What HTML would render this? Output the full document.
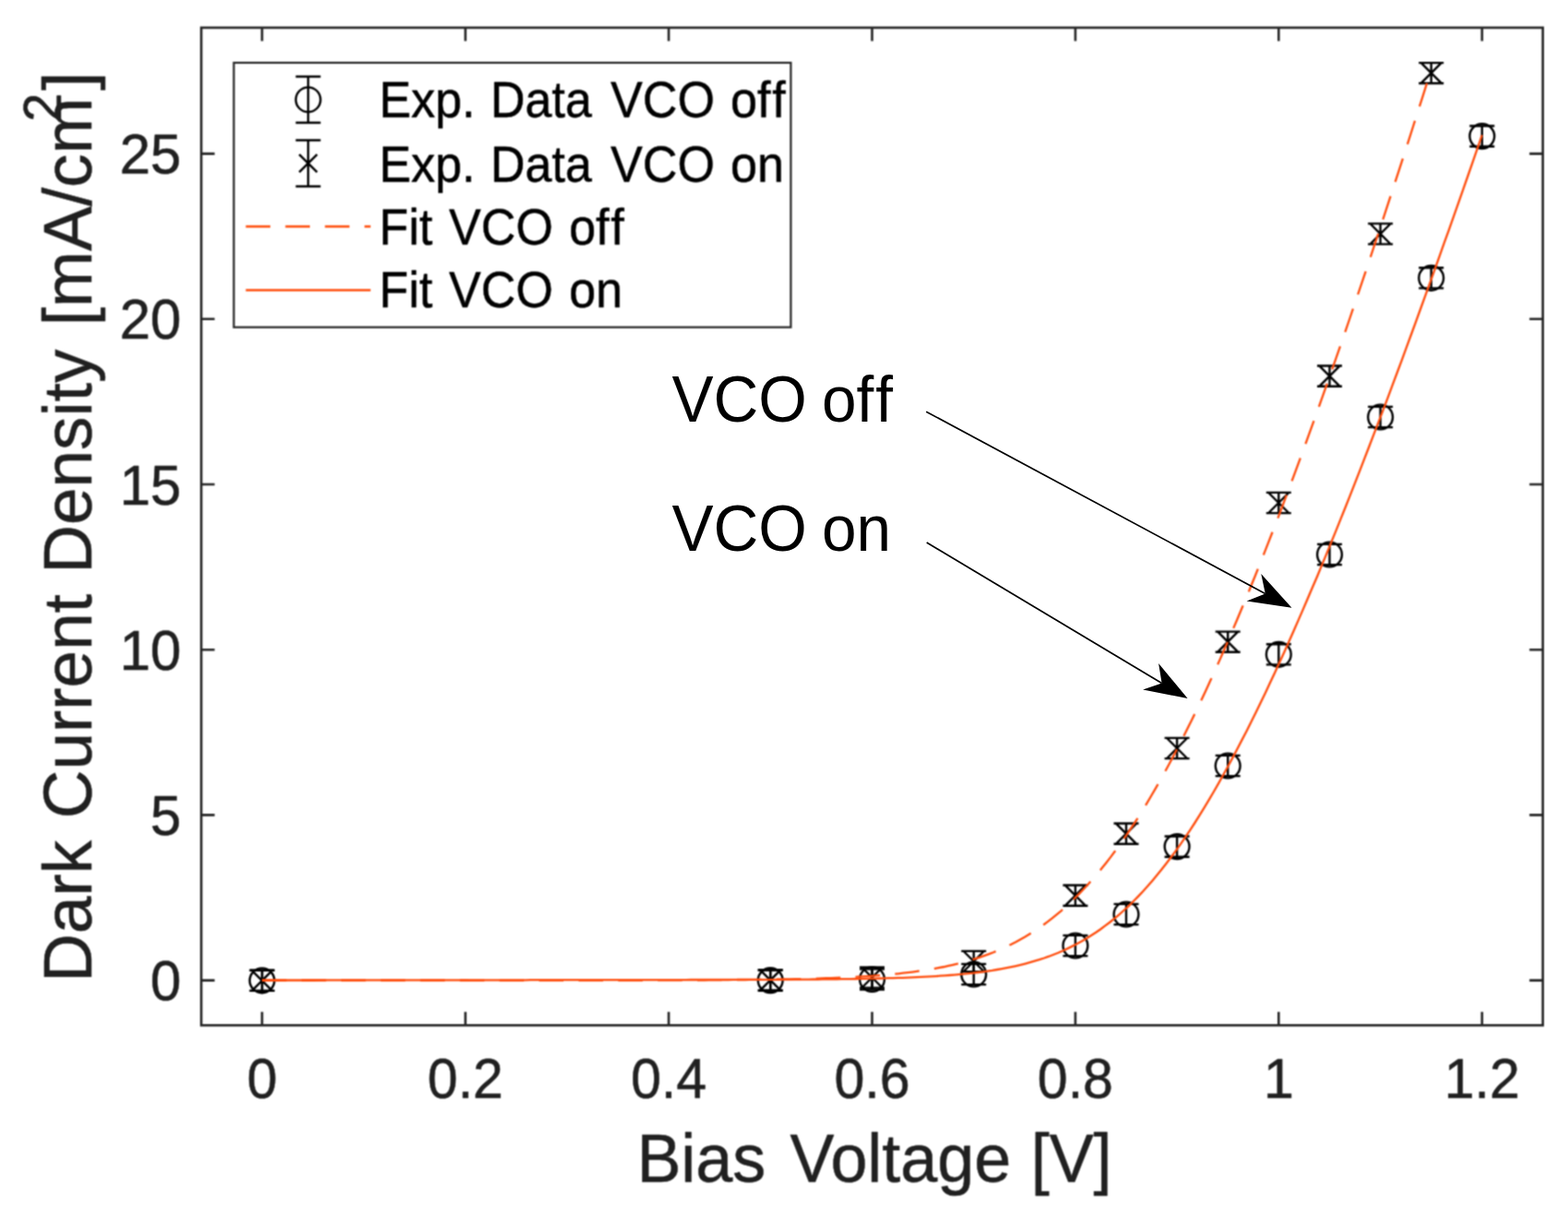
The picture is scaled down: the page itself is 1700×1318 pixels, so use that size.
<!DOCTYPE html>
<html lang="en"><head><meta charset="utf-8"><title>Dark Current Density vs Bias Voltage</title>
<style>html,body{margin:0;padding:0;background:#fff;}body{width:1700px;height:1318px;overflow:hidden;}svg{display:block;}text{font-family:"Liberation Sans",Arial,Helvetica,sans-serif;white-space:pre;}.m text{stroke-width:0.5px;stroke-linejoin:round;paint-order:stroke fill;}</style>
</head><body>
<svg width="1700" height="1318" viewBox="0 0 1700 1318">
<defs><filter id="soft" x="0" y="0" width="1700" height="1318" filterUnits="userSpaceOnUse" color-interpolation-filters="sRGB"><feConvolveMatrix order="3" kernelMatrix="1 2 1 2 4 2 1 2 1" divisor="16" edgeMode="duplicate" preserveAlpha="true"/></filter></defs>
<rect width="1700" height="1318" fill="#fff"/>
<g class="m" filter="url(#soft)">
<rect width="1700" height="1318" fill="#fff"/>
<g fill="none" stroke="#262626" stroke-width="2.6">
<rect x="218.2" y="30.0" width="1454.5" height="1081.3"/>
<path d="M284.1,1111.3 V1096.8 M284.1,30.0 V44.5"/>
<path d="M504.6,1111.3 V1096.8 M504.6,30.0 V44.5"/>
<path d="M725.0,1111.3 V1096.8 M725.0,30.0 V44.5"/>
<path d="M945.5,1111.3 V1096.8 M945.5,30.0 V44.5"/>
<path d="M1165.9,1111.3 V1096.8 M1165.9,30.0 V44.5"/>
<path d="M1386.3,1111.3 V1096.8 M1386.3,30.0 V44.5"/>
<path d="M1606.8,1111.3 V1096.8 M1606.8,30.0 V44.5"/>
<path d="M218.2,1062.6 H232.7 M1672.7,1062.6 H1658.2"/>
<path d="M218.2,883.4 H232.7 M1672.7,883.4 H1658.2"/>
<path d="M218.2,704.2 H232.7 M1672.7,704.2 H1658.2"/>
<path d="M218.2,525.0 H232.7 M1672.7,525.0 H1658.2"/>
<path d="M218.2,345.8 H232.7 M1672.7,345.8 H1658.2"/>
<path d="M218.2,166.6 H232.7 M1672.7,166.6 H1658.2"/>
</g>
<text transform="translate(284.1,1190.4) scale(0.985,1.02)" font-size="60px" fill="#202020" stroke="#202020" text-anchor="middle">0</text>
<text transform="translate(504.6,1190.4) scale(0.985,1.02)" font-size="60px" fill="#202020" stroke="#202020" text-anchor="middle">0.2</text>
<text transform="translate(725.0,1190.4) scale(0.985,1.02)" font-size="60px" fill="#202020" stroke="#202020" text-anchor="middle">0.4</text>
<text transform="translate(945.5,1190.4) scale(0.985,1.02)" font-size="60px" fill="#202020" stroke="#202020" text-anchor="middle">0.6</text>
<text transform="translate(1165.9,1190.4) scale(0.985,1.02)" font-size="60px" fill="#202020" stroke="#202020" text-anchor="middle">0.8</text>
<text transform="translate(1386.3,1190.4) scale(0.985,1.02)" font-size="60px" fill="#202020" stroke="#202020" text-anchor="middle">1</text>
<text transform="translate(1606.8,1190.4) scale(0.985,1.02)" font-size="60px" fill="#202020" stroke="#202020" text-anchor="middle">1.2</text>
<text transform="translate(196.4,1084.2) scale(1,1.02)" font-size="60px" fill="#202020" stroke="#202020" text-anchor="end">0</text>
<text transform="translate(196.4,905.0) scale(1,1.02)" font-size="60px" fill="#202020" stroke="#202020" text-anchor="end">5</text>
<text transform="translate(196.4,725.8) scale(1,1.02)" font-size="60px" fill="#202020" stroke="#202020" text-anchor="end">10</text>
<text transform="translate(196.4,546.6) scale(1,1.02)" font-size="60px" fill="#202020" stroke="#202020" text-anchor="end">15</text>
<text transform="translate(196.4,367.4) scale(1,1.02)" font-size="60px" fill="#202020" stroke="#202020" text-anchor="end">20</text>
<text transform="translate(196.4,188.2) scale(1,1.02)" font-size="60px" fill="#202020" stroke="#202020" text-anchor="end">25</text>
<text transform="translate(0,1281.4) scale(0.985,1.02)" font-size="73px" fill="#202020" stroke="#202020"><tspan x="700.92">Bias </tspan><tspan x="869.43">Voltage </tspan><tspan x="1134.69">[V]</tspan></text>
<text transform="translate(99.3,1064) rotate(-90) scale(1,1.02)" font-size="73px" fill="#202020" stroke="#202020"><tspan x="-0.8">Dark </tspan><tspan x="176.7">Current </tspan><tspan x="442.2">Density </tspan><tspan x="710.8">[mA/cm</tspan><tspan x="932" dy="-32.2" font-size="56px">2</tspan><tspan x="966.1" dy="32.2">]</tspan></text>
<g fill="none" stroke="#000" stroke-width="2.4">
<path d="M284.1,1051.7 V1073.9 M270.6,1051.7 H297.6 M270.6,1073.9 H297.6"/><circle cx="284.1" cy="1062.8" r="13.4"/>
<path d="M835.2,1051.5 V1073.7 M821.7,1051.5 H848.7 M821.7,1073.7 H848.7"/><circle cx="835.2" cy="1062.6" r="13.4"/>
<path d="M945.5,1050.4 V1072.6 M932.0,1050.4 H959.0 M932.0,1072.6 H959.0"/><circle cx="945.5" cy="1061.5" r="13.4"/>
<path d="M1055.7,1044.9 V1067.1 M1042.2,1044.9 H1069.2 M1042.2,1067.1 H1069.2"/><circle cx="1055.7" cy="1056.0" r="13.4"/>
<path d="M1165.9,1013.9 V1036.1 M1152.4,1013.9 H1179.4 M1152.4,1036.1 H1179.4"/><circle cx="1165.9" cy="1025.0" r="13.4"/>
<path d="M1221.0,979.9 V1002.1 M1207.5,979.9 H1234.5 M1207.5,1002.1 H1234.5"/><circle cx="1221.0" cy="991.0" r="13.4"/>
<path d="M1276.1,906.5 V928.7 M1262.6,906.5 H1289.6 M1262.6,928.7 H1289.6"/><circle cx="1276.1" cy="917.6" r="13.4"/>
<path d="M1331.2,818.9 V841.1 M1317.7,818.9 H1344.7 M1317.7,841.1 H1344.7"/><circle cx="1331.2" cy="830.0" r="13.4"/>
<path d="M1386.3,698.2 V720.4 M1372.8,698.2 H1399.8 M1372.8,720.4 H1399.8"/><circle cx="1386.3" cy="709.3" r="13.4"/>
<path d="M1441.5,589.9 V612.1 M1428.0,589.9 H1455.0 M1428.0,612.1 H1455.0"/><circle cx="1441.5" cy="601.0" r="13.4"/>
<path d="M1496.6,440.9 V463.1 M1483.1,440.9 H1510.1 M1483.1,463.1 H1510.1"/><circle cx="1496.6" cy="452.0" r="13.4"/>
<path d="M1551.7,290.2 V312.4 M1538.2,290.2 H1565.2 M1538.2,312.4 H1565.2"/><circle cx="1551.7" cy="301.3" r="13.4"/>
<path d="M1606.8,136.5 V158.7 M1593.3,136.5 H1620.3 M1593.3,158.7 H1620.3"/><circle cx="1606.8" cy="147.6" r="13.4"/>
<path d="M284.1,1051.7 V1073.9 M270.6,1051.7 H297.6 M270.6,1073.9 H297.6 M273.6,1052.3 L294.6,1073.3 M273.6,1073.3 L294.6,1052.3"/>
<path d="M835.2,1051.2 V1073.4 M821.7,1051.2 H848.7 M821.7,1073.4 H848.7 M824.7,1051.8 L845.7,1072.8 M824.7,1072.8 L845.7,1051.8"/>
<path d="M945.5,1048.4 V1070.6 M932.0,1048.4 H959.0 M932.0,1070.6 H959.0 M935.0,1049.0 L956.0,1070.0 M935.0,1070.0 L956.0,1049.0"/>
<path d="M1055.7,1030.9 V1053.1 M1042.2,1030.9 H1069.2 M1042.2,1053.1 H1069.2 M1045.2,1031.5 L1066.2,1052.5 M1045.2,1052.5 L1066.2,1031.5"/>
<path d="M1165.9,959.5 V981.7 M1152.4,959.5 H1179.4 M1152.4,981.7 H1179.4 M1155.4,960.1 L1176.4,981.1 M1155.4,981.1 L1176.4,960.1"/>
<path d="M1221.0,892.5 V914.7 M1207.5,892.5 H1234.5 M1207.5,914.7 H1234.5 M1210.5,893.1 L1231.5,914.1 M1210.5,914.1 L1231.5,893.1"/>
<path d="M1276.1,799.9 V822.1 M1262.6,799.9 H1289.6 M1262.6,822.1 H1289.6 M1265.6,800.5 L1286.6,821.5 M1265.6,821.5 L1286.6,800.5"/>
<path d="M1331.2,684.6 V706.8 M1317.7,684.6 H1344.7 M1317.7,706.8 H1344.7 M1320.7,685.2 L1341.7,706.2 M1320.7,706.2 L1341.7,685.2"/>
<path d="M1386.3,533.9 V556.1 M1372.8,533.9 H1399.8 M1372.8,556.1 H1399.8 M1375.8,534.5 L1396.8,555.5 M1375.8,555.5 L1396.8,534.5"/>
<path d="M1441.5,396.5 V418.7 M1428.0,396.5 H1455.0 M1428.0,418.7 H1455.0 M1431.0,397.1 L1452.0,418.1 M1431.0,418.1 L1452.0,397.1"/>
<path d="M1496.6,242.4 V264.6 M1483.1,242.4 H1510.1 M1483.1,264.6 H1510.1 M1486.1,243.0 L1507.1,264.0 M1486.1,264.0 L1507.1,243.0"/>
<path d="M1551.7,68.1 V90.3 M1538.2,68.1 H1565.2 M1538.2,90.3 H1565.2 M1541.2,68.7 L1562.2,89.7 M1541.2,89.7 L1562.2,68.7"/>
</g>
<g fill="none" stroke="#ff4d0d" stroke-width="2.3">
<path d="M284.1,1062.5 L289.0,1062.5 L293.9,1062.5 L298.8,1062.5 L303.7,1062.5 L308.6,1062.5 L313.5,1062.5 L318.4,1062.5 L323.3,1062.5 L328.1,1062.5 L333.0,1062.5 L337.9,1062.5 L342.8,1062.5 L347.7,1062.5 L352.6,1062.5 L357.5,1062.5 L362.4,1062.5 L367.3,1062.5 L372.2,1062.5 L377.1,1062.5 L382.0,1062.5 L386.9,1062.5 L391.8,1062.5 L396.7,1062.5 L401.6,1062.5 L406.5,1062.5 L411.3,1062.5 L416.2,1062.5 L421.1,1062.5 L426.0,1062.5 L430.9,1062.5 L435.8,1062.5 L440.7,1062.5 L445.6,1062.5 L450.5,1062.5 L455.4,1062.5 L460.3,1062.5 L465.2,1062.5 L470.1,1062.5 L475.0,1062.5 L479.9,1062.5 L484.8,1062.5 L489.7,1062.5 L494.5,1062.5 L499.4,1062.5 L504.3,1062.5 L509.2,1062.6 L514.1,1062.6 L519.0,1062.6 L523.9,1062.6 L528.8,1062.6 L533.7,1062.6 L538.6,1062.6 L543.5,1062.6 L548.4,1062.6 L553.3,1062.6 L558.2,1062.6 L563.1,1062.6 L568.0,1062.6 L572.9,1062.6 L577.7,1062.6 L582.6,1062.6 L587.5,1062.6 L592.4,1062.6 L597.3,1062.6 L602.2,1062.5 L607.1,1062.5 L612.0,1062.5 L616.9,1062.5 L621.8,1062.5 L626.7,1062.5 L631.6,1062.5 L636.5,1062.5 L641.4,1062.5 L646.3,1062.5 L651.2,1062.5 L656.1,1062.5 L661.0,1062.5 L665.8,1062.5 L670.7,1062.5 L675.6,1062.5 L680.5,1062.5 L685.4,1062.5 L690.3,1062.5 L695.2,1062.5 L700.1,1062.5 L705.0,1062.5 L709.9,1062.4 L714.8,1062.4 L719.7,1062.4 L724.6,1062.4 L729.5,1062.4 L734.4,1062.4 L739.3,1062.4 L744.2,1062.4 L749.0,1062.3 L753.9,1062.3 L758.8,1062.3 L763.7,1062.3 L768.6,1062.2 L773.5,1062.2 L778.4,1062.2 L783.3,1062.2 L788.2,1062.1 L793.1,1062.1 L798.0,1062.0 L802.9,1062.0 L807.8,1062.0 L812.7,1061.9 L817.6,1061.9 L822.5,1061.8 L827.4,1061.7 L832.2,1061.7 L837.1,1061.6 L842.0,1061.5 L846.9,1061.5 L851.8,1061.4 L856.7,1061.3 L861.6,1061.2 L866.5,1061.1 L871.4,1061.0 L876.3,1060.8 L881.2,1060.7 L886.1,1060.6 L891.0,1060.4 L895.9,1060.2 L900.8,1060.1 L905.7,1059.9 L910.6,1059.7 L915.4,1059.5 L920.3,1059.2 L925.2,1059.0 L930.1,1058.7 L935.0,1058.4 L939.9,1058.1 L944.8,1057.8 L949.7,1057.4 L954.6,1057.1 L959.5,1056.7 L964.4,1056.2 L969.3,1055.8 L974.2,1055.3 L979.1,1054.7 L984.0,1054.2 L988.9,1053.6 L993.8,1052.9 L998.6,1052.2 L1003.5,1051.5 L1008.4,1050.7 L1013.3,1049.8 L1018.2,1048.9 L1023.1,1048.0 L1028.0,1046.9 L1032.9,1045.8 L1037.8,1044.7 L1042.7,1043.4 L1047.6,1042.1 L1052.5,1040.7 L1057.4,1039.2 L1062.3,1037.6 L1067.2,1035.9 L1072.1,1034.1 L1077.0,1032.2 L1081.8,1030.2 L1086.7,1028.1 L1091.6,1025.8 L1096.5,1023.5 L1101.4,1021.0 L1106.3,1018.3 L1111.2,1015.5 L1116.1,1012.5 L1121.0,1009.4 L1125.9,1006.2 L1130.8,1002.8 L1135.7,999.2 L1140.6,995.4 L1145.5,991.4 L1150.4,987.3 L1155.3,983.0 L1160.2,978.5 L1165.0,973.8 L1169.9,968.9 L1174.8,963.8 L1179.7,958.5 L1184.6,953.0 L1189.5,947.2 L1194.4,941.3 L1199.3,935.2 L1204.2,928.9 L1209.1,922.3 L1214.0,915.6 L1218.9,908.6 L1223.8,901.4 L1228.7,894.0 L1233.6,886.5 L1238.5,878.7 L1243.4,870.7 L1248.2,862.5 L1253.1,854.1 L1258.0,845.5 L1262.9,836.7 L1267.8,827.7 L1272.7,818.5 L1277.6,809.1 L1282.5,799.6 L1287.4,789.8 L1292.3,779.9 L1297.2,769.8 L1302.1,759.6 L1307.0,749.2 L1311.9,738.6 L1316.8,727.8 L1321.7,716.9 L1326.6,705.8 L1331.5,694.6 L1336.3,683.2 L1341.2,671.7 L1346.1,660.0 L1351.0,648.2 L1355.9,636.3 L1360.8,624.2 L1365.7,612.0 L1370.6,599.6 L1375.5,587.2 L1380.4,574.6 L1385.3,561.9 L1390.2,549.1 L1395.1,536.1 L1400.0,523.1 L1404.9,509.9 L1409.8,496.7 L1414.7,483.3 L1419.5,469.8 L1424.4,456.3 L1429.3,442.6 L1434.2,428.9 L1439.1,415.0 L1444.0,401.1 L1448.9,387.1 L1453.8,372.9 L1458.7,358.8 L1463.6,344.5 L1468.5,330.1 L1473.4,315.7 L1478.3,301.2 L1483.2,286.6 L1488.1,271.9 L1493.0,257.2 L1497.9,242.4 L1502.7,227.6 L1507.6,212.6 L1512.5,197.6 L1517.4,182.6 L1522.3,167.5 L1527.2,152.3 L1532.1,137.0 L1537.0,121.7 L1541.9,106.4 L1546.8,90.9 L1551.7,75.5" stroke-dasharray="26.6 16.3"/>
<path d="M284.1,1062.5 L289.2,1062.5 L294.3,1062.5 L299.4,1062.5 L304.5,1062.5 L309.6,1062.5 L314.7,1062.5 L319.8,1062.5 L325.0,1062.5 L330.1,1062.5 L335.2,1062.5 L340.3,1062.5 L345.4,1062.4 L350.5,1062.4 L355.6,1062.4 L360.7,1062.4 L365.8,1062.4 L370.9,1062.4 L376.0,1062.4 L381.1,1062.4 L386.2,1062.4 L391.3,1062.4 L396.5,1062.4 L401.6,1062.4 L406.7,1062.4 L411.8,1062.4 L416.9,1062.4 L422.0,1062.4 L427.1,1062.4 L432.2,1062.4 L437.3,1062.4 L442.4,1062.4 L447.5,1062.4 L452.6,1062.4 L457.7,1062.4 L462.8,1062.3 L468.0,1062.3 L473.1,1062.3 L478.2,1062.3 L483.3,1062.3 L488.4,1062.3 L493.5,1062.3 L498.6,1062.3 L503.7,1062.3 L508.8,1062.3 L513.9,1062.3 L519.0,1062.3 L524.1,1062.3 L529.2,1062.3 L534.3,1062.3 L539.4,1062.3 L544.6,1062.3 L549.7,1062.3 L554.8,1062.3 L559.9,1062.3 L565.0,1062.3 L570.1,1062.3 L575.2,1062.2 L580.3,1062.2 L585.4,1062.2 L590.5,1062.2 L595.6,1062.2 L600.7,1062.2 L605.8,1062.2 L610.9,1062.2 L616.1,1062.2 L621.2,1062.2 L626.3,1062.2 L631.4,1062.2 L636.5,1062.2 L641.6,1062.2 L646.7,1062.2 L651.8,1062.2 L656.9,1062.2 L662.0,1062.2 L667.1,1062.2 L672.2,1062.2 L677.3,1062.1 L682.4,1062.1 L687.5,1062.1 L692.7,1062.1 L697.8,1062.1 L702.9,1062.1 L708.0,1062.1 L713.1,1062.1 L718.2,1062.1 L723.3,1062.1 L728.4,1062.1 L733.5,1062.1 L738.6,1062.1 L743.7,1062.1 L748.8,1062.0 L753.9,1062.0 L759.0,1062.0 L764.2,1062.0 L769.3,1062.0 L774.4,1062.0 L779.5,1062.0 L784.6,1062.0 L789.7,1062.0 L794.8,1061.9 L799.9,1061.9 L805.0,1061.9 L810.1,1061.9 L815.2,1061.9 L820.3,1061.9 L825.4,1061.9 L830.5,1061.8 L835.7,1061.8 L840.8,1061.8 L845.9,1061.8 L851.0,1061.7 L856.1,1061.7 L861.2,1061.7 L866.3,1061.6 L871.4,1061.6 L876.5,1061.6 L881.6,1061.5 L886.7,1061.5 L891.8,1061.4 L896.9,1061.4 L902.0,1061.3 L907.1,1061.3 L912.3,1061.2 L917.4,1061.2 L922.5,1061.1 L927.6,1061.0 L932.7,1060.9 L937.8,1060.8 L942.9,1060.7 L948.0,1060.6 L953.1,1060.5 L958.2,1060.4 L963.3,1060.2 L968.4,1060.1 L973.5,1059.9 L978.6,1059.8 L983.8,1059.6 L988.9,1059.4 L994.0,1059.1 L999.1,1058.9 L1004.2,1058.7 L1009.3,1058.4 L1014.4,1058.1 L1019.5,1057.7 L1024.6,1057.4 L1029.7,1057.0 L1034.8,1056.6 L1039.9,1056.2 L1045.0,1055.7 L1050.1,1055.2 L1055.2,1054.6 L1060.4,1054.0 L1065.5,1053.3 L1070.6,1052.6 L1075.7,1051.9 L1080.8,1051.0 L1085.9,1050.1 L1091.0,1049.2 L1096.1,1048.2 L1101.2,1047.1 L1106.3,1045.9 L1111.4,1044.6 L1116.5,1043.2 L1121.6,1041.7 L1126.7,1040.2 L1131.9,1038.5 L1137.0,1036.7 L1142.1,1034.7 L1147.2,1032.7 L1152.3,1030.5 L1157.4,1028.1 L1162.5,1025.6 L1167.6,1023.0 L1172.7,1020.2 L1177.8,1017.2 L1182.9,1014.0 L1188.0,1010.7 L1193.1,1007.2 L1198.2,1003.4 L1203.4,999.5 L1208.5,995.4 L1213.6,991.1 L1218.7,986.5 L1223.8,981.8 L1228.9,976.8 L1234.0,971.6 L1239.1,966.2 L1244.2,960.6 L1249.3,954.7 L1254.4,948.6 L1259.5,942.3 L1264.6,935.8 L1269.7,929.0 L1274.8,922.1 L1280.0,914.9 L1285.1,907.4 L1290.2,899.8 L1295.3,892.0 L1300.4,883.9 L1305.5,875.6 L1310.6,867.2 L1315.7,858.5 L1320.8,849.6 L1325.9,840.5 L1331.0,831.3 L1336.1,821.9 L1341.2,812.2 L1346.3,802.4 L1351.5,792.5 L1356.6,782.3 L1361.7,772.0 L1366.8,761.5 L1371.9,750.9 L1377.0,740.1 L1382.1,729.2 L1387.2,718.1 L1392.3,706.9 L1397.4,695.5 L1402.5,684.0 L1407.6,672.4 L1412.7,660.6 L1417.8,648.8 L1422.9,636.8 L1428.1,624.7 L1433.2,612.4 L1438.3,600.1 L1443.4,587.6 L1448.5,575.1 L1453.6,562.4 L1458.7,549.7 L1463.8,536.8 L1468.9,523.9 L1474.0,510.8 L1479.1,497.7 L1484.2,484.5 L1489.3,471.2 L1494.4,457.8 L1499.6,444.4 L1504.7,430.8 L1509.8,417.2 L1514.9,403.5 L1520.0,389.8 L1525.1,375.9 L1530.2,362.0 L1535.3,348.1 L1540.4,334.0 L1545.5,319.9 L1550.6,305.8 L1555.7,291.6 L1560.8,277.3 L1565.9,262.9 L1571.1,248.6 L1576.2,234.1 L1581.3,219.6 L1586.4,205.1 L1591.5,190.5 L1596.6,175.8 L1601.7,161.1 L1606.8,146.4"/>
</g>
<rect x="253.5" y="68" width="603.9" height="286.7" fill="#fff" stroke="#262626" stroke-width="2.2"/>
<g fill="none" stroke="#000" stroke-width="2.4">
<path d="M334.1,83.0 V133.0 M320.6,83.0 H347.6 M320.6,133.0 H347.6"/><circle cx="334.1" cy="108" r="13.4"/>
<path d="M334.1,152.0 V202.0 M320.6,152.0 H347.6 M320.6,202.0 H347.6 M324.40000000000003,167.3 L343.8,186.7 M324.40000000000003,186.7 L343.8,167.3"/>
</g>
<g fill="none" stroke="#ff4d0d" stroke-width="2.3">
<path d="M266.5,245.5 H401.8" stroke-dasharray="26.6 16.3"/>
<path d="M266.5,314.5 H401.8"/>
</g>
<text transform="translate(0,126.8) scale(0.965,1.045)" font-size="54px" fill="#000" stroke="#000"><tspan x="425.93">Exp. </tspan><tspan x="551.01">Data </tspan><tspan x="686.08">VCO </tspan><tspan x="820.84">of<tspan dx="1.8">f</tspan></tspan></text>
<text transform="translate(0,197.3) scale(0.965,1.045)" font-size="54px" fill="#000" stroke="#000"><tspan x="425.93">Exp. </tspan><tspan x="551.01">Data </tspan><tspan x="686.08">VCO </tspan><tspan x="820.84">on</tspan></text>
<text transform="translate(0,264.7) scale(0.965,1.045)" font-size="54px" fill="#000" stroke="#000"><tspan x="426.04">Fit </tspan><tspan x="504.43">VCO </tspan><tspan x="639.49">of<tspan dx="1.8">f</tspan></tspan></text>
<text transform="translate(0,332.6) scale(0.965,1.045)" font-size="54px" fill="#000" stroke="#000"><tspan x="426.04">Fit </tspan><tspan x="504.43">VCO </tspan><tspan x="639.49">on</tspan></text>
</g>
<text transform="translate(0,457.0) scale(1.0,1.04)" font-size="67.5px" fill="#000"><tspan x="728.50">VCO </tspan><tspan x="891.07">of<tspan dx="2.0">f</tspan></tspan></text>
<text transform="translate(0,597.4) scale(1.0,1.04)" font-size="67.5px" fill="#000"><tspan x="728.50">VCO </tspan><tspan x="891.07">on</tspan></text>
<path d="M1004.2,446.2 L1371.8,643.4" stroke="#000" stroke-width="1.7" fill="none"/><path d="M1400.5,658.8 L1351.6,651.4 L1371.8,643.4 L1367.3,622.1 Z" fill="#000"/>
<path d="M1004.7,588.0 L1259.6,740.4" stroke="#000" stroke-width="1.7" fill="none"/><path d="M1287.6,757.1 L1239.1,747.4 L1259.6,740.4 L1256.1,718.9 Z" fill="#000"/>
</svg></body></html>
